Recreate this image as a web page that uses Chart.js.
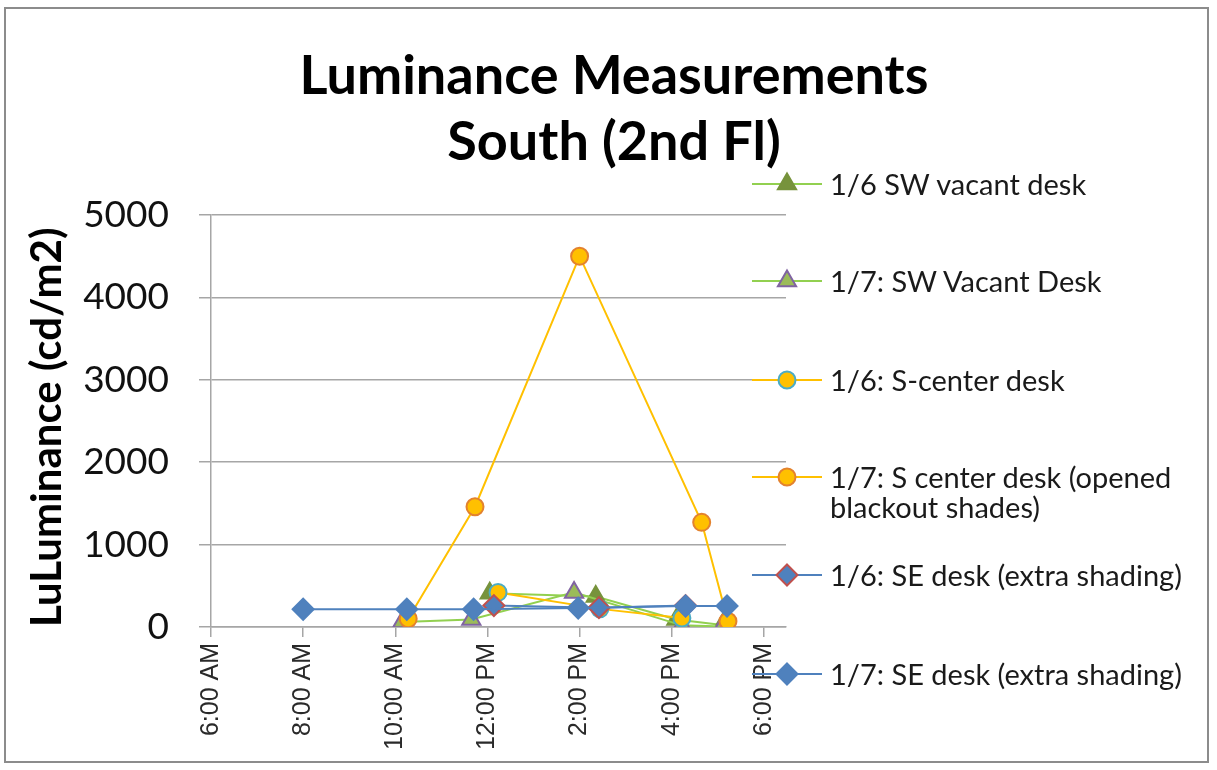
<!DOCTYPE html>
<html>
<head>
<meta charset="utf-8">
<title>Luminance Measurements South (2nd Fl)</title>
<script src="https://cdn.jsdelivr.net/npm/chart.js@4.4.0/dist/chart.umd.min.js"></script>
<style>
  html, body { margin: 0; padding: 0; background: #fff; }
  #wrap { position: relative; width: 1217px; height: 770px; overflow: hidden; font-family: Lato, 'Open Sans', sans-serif; }
  #frame { position: absolute; left: 4px; top: 7px; width: 1205px; height: 756px; border: 2px solid #8c8c8c; box-sizing: border-box; }
  #box { position: absolute; left: 0; top: 0; width: 1217px; height: 770px; }
  #title { position: absolute; left: 264px; width: 700px; top: 41px; text-align: center; font-weight: 700; font-size: 54px; line-height: 66px; color: #000; }
  .lg { position: absolute; left: 752px; height: 30px; }
  .lg svg { position: absolute; left: 0; top: 0; }
  .lg .txt { position: absolute; left: 78px; top: 0; width: 380px; font-size: 29px; line-height: 30px; color: #1a1a1a; }
</style>
</head>
<body>
<div id="wrap">
  <div id="frame"></div>
  <div id="box"><canvas id="lumChart"></canvas></div>
  <div id="title">Luminance Measurements<br>South (2nd Fl)</div>
  <div id="legend"></div>
</div>
<script>
(function () {
  /* ── Data (time of day in hours, luminance in cd/m2) ─────── */
  const xTickHours  = [6, 8, 10, 12, 14, 16, 18];
  const xTickLabels = ['6:00 AM', '8:00 AM', '10:00 AM', '12:00 PM', '2:00 PM', '4:00 PM', '6:00 PM'];
  const yTickValues = [0, 1000, 2000, 3000, 4000, 5000];

  const seriesNames = [
    '1/6 SW vacant desk',
    '1/7: SW Vacant Desk',
    '1/6: S-center desk',
    '1/7: S center desk (opened blackout shades)',
    '1/6: SE desk (extra shading)',
    '1/7: SE desk (extra shading)'
  ];

  const swJan6Times = [12.05, 14.35, 16.1, 17.1];
  const swJan6Lum   = [410, 370, 90, 25];

  const swJan7Times = [10.15, 11.65, 13.88, 16.22, 17.1];
  const swJan7Lum   = [60, 90, 420, 20, 5];

  const scJan6Times = [12.23, 14.44, 16.22];
  const scJan6Lum   = [420, 220, 110];

  const scJan7Times = [10.28, 11.73, 14.0, 16.65, 17.22];
  const scJan7Lum   = [100, 1460, 4500, 1270, 70];

  const seJan6Times = [12.14, 14.42, 16.3];
  const seJan6Lum   = [260, 235, 260];

  const seJan7Times = [8.0, 10.25, 11.7, 13.97, 16.3, 17.2];
  const seJan7Lum   = [215, 215, 215, 230, 255, 255];

  /* ── Styles ──────────────────────────────────────────────── */
  const GREEN = '#92D050', OLIVE = '#77933C', LEAF = '#9BBB59', PURPLE = '#8064A2';
  const GOLD = '#FFC000', TEAL = '#4BACC6', ORANGE = '#E3822E';
  const BLUE = '#4F81BD', RED = '#C0504D';
  const GRID = '#A6A6A6';

  const styles = [
    { line: GREEN, fill: OLIVE, edge: OLIVE,  shape: 'triangle', r: 10.5 },
    { line: GREEN, fill: LEAF,  edge: PURPLE, shape: 'triangle', r: 10.5 },
    { line: GOLD,  fill: GOLD,  edge: TEAL,   shape: 'circle',   r: 8.5 },
    { line: GOLD,  fill: GOLD,  edge: ORANGE, shape: 'circle',   r: 8.5 },
    { line: BLUE,  fill: BLUE,  edge: RED,    shape: 'rectRot',  r: 10.5 },
    { line: BLUE,  fill: BLUE,  edge: BLUE,   shape: 'rectRot',  r: 10.5 }
  ];

  const pairs = (xs, ys) => xs.map((x, i) => ({ x: x, y: ys[i] }));
  const seriesData = [
    pairs(swJan6Times, swJan6Lum),
    pairs(swJan7Times, swJan7Lum),
    pairs(scJan6Times, scJan6Lum),
    pairs(scJan7Times, scJan7Lum),
    pairs(seJan6Times, seJan6Lum),
    pairs(seJan7Times, seJan7Lum)
  ];

  /* ── Chart ───────────────────────────────────────────────── */
  new Chart(document.getElementById('lumChart'), {
    type: 'line',
    data: {
      datasets: seriesData.map((d, i) => ({
        label: seriesNames[i],
        data: d,
        order: seriesData.length - i,      // later series on top, like Excel
        borderColor: styles[i].line,
        borderWidth: 2,
        tension: 0,
        fill: false,
        pointStyle: styles[i].shape,
        pointRadius: styles[i].r,
        pointBackgroundColor: styles[i].fill,
        pointBorderColor: styles[i].edge,
        pointBorderWidth: 2
      }))
    },
    options: {
      responsive: true,
      maintainAspectRatio: false,
      animation: false,
      events: [],
      layout: { padding: { left: 0, right: 431, top: 215, bottom: 0 } },
      plugins: { legend: { display: false }, tooltip: { enabled: false }, title: { display: false } },
      scales: {
        x: {
          type: 'linear',
          min: 6,
          max: 18.48,
          afterBuildTicks: s => { s.ticks = xTickHours.map(v => ({ value: v })); },
          afterFit: s => { s.height = 143; },
          ticks: {
            autoSkip: false,
            minRotation: 90,
            maxRotation: 90,
            padding: 6,
            color: '#2a2a2a',
            font: { family: "'Liberation Sans', Arial, sans-serif", size: 25 },
            callback: v => xTickLabels[xTickHours.indexOf(v)]
          },
          grid: { drawOnChartArea: false, drawTicks: true, tickLength: 10, color: GRID, lineWidth: 1.5 },
          border: { color: GRID, width: 1.5 }
        },
        y: {
          min: 0,
          max: 5000,
          afterBuildTicks: s => { s.ticks = yTickValues.map(v => ({ value: v })); },
          afterFit: s => { s.width = 211; },
          ticks: {
            padding: 30,
            color: '#111',
            font: { family: 'Lato, sans-serif', size: 37 },
            callback: v => String(v)
          },
          grid: { color: GRID, lineWidth: 1.5, tickLength: 12 },
          border: { color: GRID, width: 1.5 },
          title: {
            display: true,
            text: 'LuLuminance (cd/m2)',
            align: 'start',
            color: '#000',
            font: { family: 'Lato, sans-serif', size: 42, weight: '700' },
            padding: { top: 22, bottom: 0 }
          }
        }
      }
    }
  });

  /* ── Legend (Excel style: line through the marker) ───────── */
  const legendTops = [169, 266, 365, 462, 560, 659];
  function markerSvg(st) {
    const cx = 35, cy = 15;
    let shape;
    if (st.shape === 'circle') {
      shape = `<circle cx="${cx}" cy="${cy}" r="${st.r}" fill="${st.fill}" stroke="${st.edge}" stroke-width="2"/>`;
    } else if (st.shape === 'triangle') {
      const r = st.r, h = r * 0.866;
      shape = `<polygon points="${cx},${cy - r} ${cx + h},${cy + r / 2} ${cx - h},${cy + r / 2}" fill="${st.fill}" stroke="${st.edge}" stroke-width="2"/>`;
    } else {
      const r = st.r;
      shape = `<polygon points="${cx},${cy - r} ${cx + r},${cy} ${cx},${cy + r} ${cx - r},${cy}" fill="${st.fill}" stroke="${st.edge}" stroke-width="2"/>`;
    }
    return `<svg width="70" height="30" viewBox="0 0 70 30"><line x1="0" y1="${cy}" x2="70" y2="${cy}" stroke="${st.line}" stroke-width="2"/>${shape}</svg>`;
  }
  const legend = document.getElementById('legend');
  seriesNames.forEach((name, i) => {
    const el = document.createElement('div');
    el.className = 'lg';
    el.style.top = legendTops[i] + 'px';
    el.innerHTML = markerSvg(styles[i]) + `<div class="txt">${name}</div>`;
    legend.appendChild(el);
  });
})();
</script>
</body>
</html>
